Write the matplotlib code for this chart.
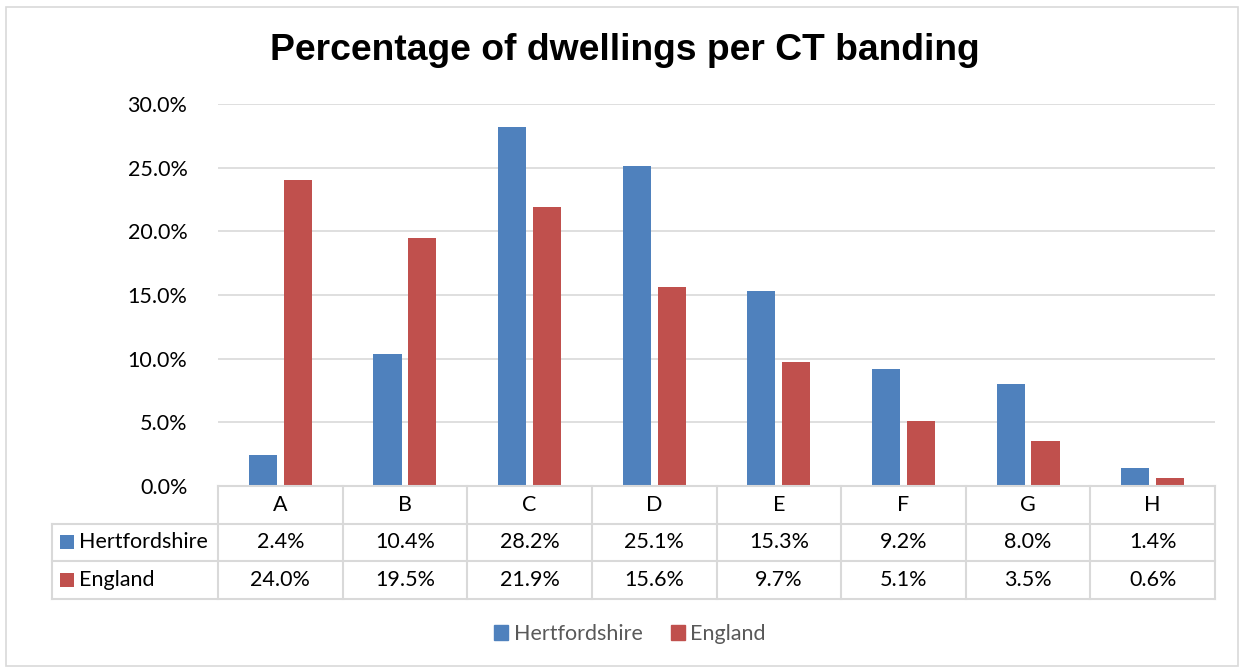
import numpy as np
import matplotlib.pyplot as plt
from matplotlib.patches import Rectangle

categories = ["A", "B", "C", "D", "E", "F", "G", "H"]
series_names = ["Hertfordshire", "England"]
hertfordshire = [2.4, 10.4, 28.2, 25.1, 15.3, 9.2, 8.0, 1.4]
england = [24.0, 19.5, 21.9, 15.6, 9.7, 5.1, 3.5, 0.6]
colors = ["#4f81bd", "#c0504d"]
yticks = [0, 5, 10, 15, 20, 25, 30]

W, H = 1244, 668
fig = plt.figure(figsize=(W / 100, H / 100), dpi=100)
plt.rcParams["font.family"] = ["Lato", "DejaVu Sans"]
FS = 15.5

# outer chart border
fig.patches.append(Rectangle((6 / W, 2 / H), 1 - 12 / W, 1 - 9 / H, transform=fig.transFigure,
                             fill=False, edgecolor="#d9d9d9", linewidth=1.2))

px_l, px_r, px_t, px_b = 218, 1215, 104, 486
ax = fig.add_axes([px_l / W, 1 - px_b / H, (px_r - px_l) / W, (px_b - px_t) / H])

x = np.arange(len(categories))
bw = 0.225
off = 0.14
ax.bar(x - off, hertfordshire, bw, color=colors[0], zorder=3)
ax.bar(x + off, england, bw, color=colors[1], zorder=3)
ax.set_xlim(-0.5, len(categories) - 0.5)
ax.set_ylim(0, 30)
ax.set_yticks(yticks)
ax.set_yticklabels([f"{v:.1f}%" for v in yticks], fontsize=FS, color="#000000")
ax.tick_params(axis="y", length=0, pad=22)
ax.set_xticks([])
ax.grid(axis="y", color="#d9d9d9", linewidth=1.2, zorder=0)
for s in ax.spines.values():
    s.set_visible(False)

fig.text(625 / W, 1 - 50 / H, "Percentage of dwellings per CT banding", ha="center", va="center",
         fontsize=26.8, fontweight="bold", family=["Liberation Sans", "DejaVu Sans"])

# data table below the axis
row_h = 37.5
left_col = 52
cell_w = (px_r - px_l) / len(categories)
line_kw = dict(color="#d9d9d9", linewidth=1.5, transform=fig.transFigure, clip_on=False)
n_rows = 3
bottom = px_b + n_rows * row_h


def fx(p):
    return p / W


def fy(p):
    return 1 - p / H


# horizontal lines
fig.add_artist(plt.Line2D([fx(px_l), fx(px_r)], [fy(px_b), fy(px_b)], **line_kw))
for r in range(1, n_rows + 1):
    y = px_b + r * row_h
    fig.add_artist(plt.Line2D([fx(left_col), fx(px_r)], [fy(y), fy(y)], **line_kw))
# vertical lines
fig.add_artist(plt.Line2D([fx(left_col), fx(left_col)], [fy(px_b + row_h), fy(bottom)], **line_kw))
for i in range(len(categories) + 1):
    xx = px_l + i * cell_w
    fig.add_artist(plt.Line2D([fx(xx), fx(xx)], [fy(px_b), fy(bottom)], **line_kw))

for i, c in enumerate(categories):
    cx = px_l + (i + 0.5) * cell_w
    fig.text(fx(cx), fy(px_b + 0.5 * row_h), c, ha="center", va="center", fontsize=FS)
    for r, vals in enumerate([hertfordshire, england]):
        fig.text(fx(cx), fy(px_b + (r + 1.5) * row_h), f"{vals[i]:.1f}%", ha="center", va="center",
                 fontsize=FS)

for r, name in enumerate(series_names):
    yc = px_b + (r + 1.5) * row_h
    fig.patches.append(Rectangle((fx(60), fy(yc + 7)), 14 / W, 14 / H, transform=fig.transFigure,
                                 facecolor=colors[r], edgecolor="none"))
    fig.text(fx(79), fy(yc), name, ha="left", va="center", fontsize=FS)

# legend
handles = [Rectangle((0, 0), 1, 1, color=c) for c in colors]
fig.legend(handles, series_names, loc="center", bbox_to_anchor=(fx(630), fy(634)), ncol=2,
           frameon=False, fontsize=FS, handlelength=0.65, handleheight=0.65, handletextpad=0.25,
           columnspacing=1.3, labelcolor="#595959")

fig.savefig("out.png", dpi=100)
